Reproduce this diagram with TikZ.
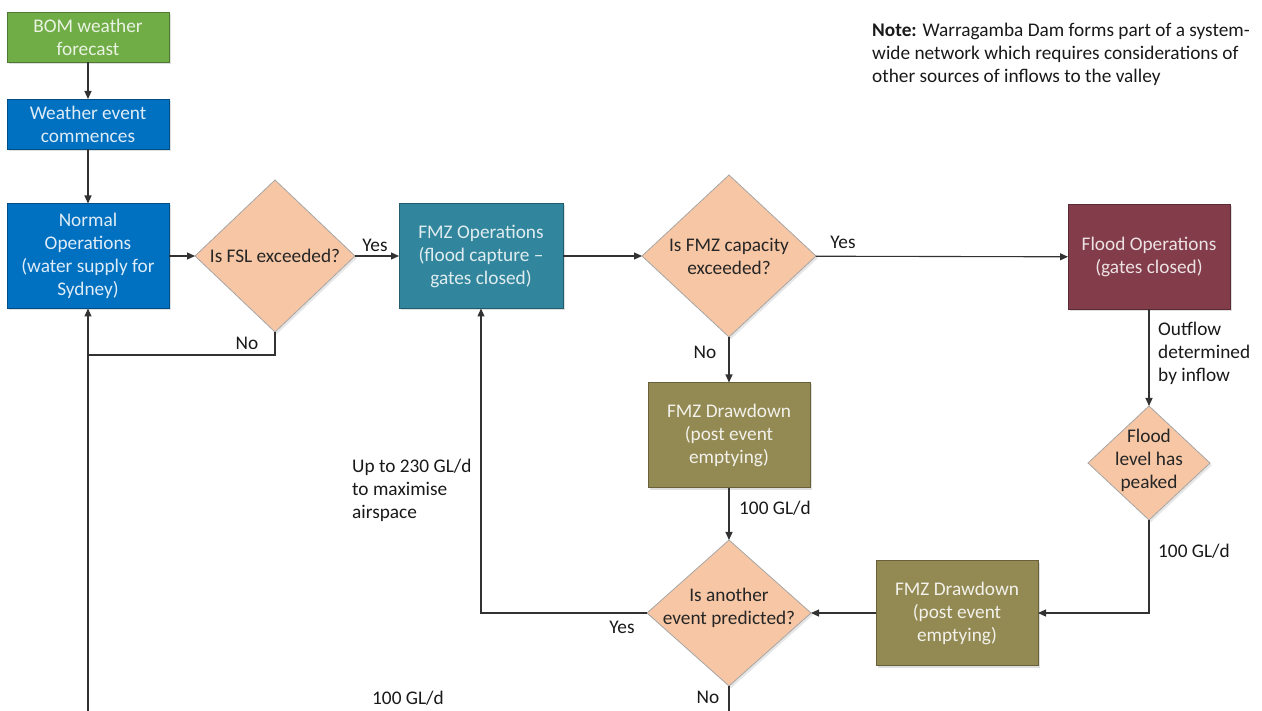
\documentclass[tikz,border=0pt]{standalone}
\usepackage{fontspec}
\setmainfont{Carlito}
\usepackage{tikz}
\usetikzlibrary{arrows.meta,shapes.geometric,shadows}
\definecolor{BOMGreen}{RGB}{112,173,71}
\definecolor{OpsBlue}{RGB}{0,112,192}
\definecolor{FMZTeal}{RGB}{49,133,156}
\definecolor{FloodRed}{RGB}{131,60,74}
\definecolor{DrawOlive}{RGB}{147,137,83}
\definecolor{Peach}{RGB}{247,198,164}
\definecolor{LineGrey}{RGB}{50,50,50}

\begin{document}
\begin{tikzpicture}[x=1pt,y=-1pt,
    font=\fontsize{19.3}{23}\selectfont,
    procbox/.style={draw=#1!70!black, fill=#1, line width=0.8pt, minimum width=162, minimum height=105,
      align=center, inner sep=2pt, outer sep=0pt,
      drop shadow={shadow xshift=2pt,shadow yshift=-2pt,opacity=0.25}},
    decision/.style={diamond, draw=black!35, fill=Peach, line width=0.8pt, inner sep=0pt, outer sep=0pt,
      drop shadow={shadow xshift=2pt,shadow yshift=-2pt,opacity=0.2}},
    qtext/.style={align=center, text=black!85, inner sep=0pt},
    lbl/.style={align=left, text=black!90, inner sep=0pt},
    wire/.style={draw=LineGrey, line width=1.1pt},
    arr/.style={wire, -{Triangle[length=8pt,width=7pt]}}]
  \useasboundingbox (0,0) rectangle (1262,711);

  \node[procbox=BOMGreen, minimum height=50, text=BOMGreen!15] (bom) at (88,37) {BOM weather\\forecast};
  \node[procbox=OpsBlue, minimum height=50, text=OpsBlue!13] (wx) at (88,124) {Weather event\\commences};
  \node[procbox=OpsBlue, text=OpsBlue!13] (normal) at (88,256) {Normal\\Operations\\(water supply for\\Sydney)};
  \node[procbox=FMZTeal, minimum width=164, text=FMZTeal!15] (fmzops) at (481,256) {FMZ Operations\\(flood capture --\\gates closed)};
  \node[procbox=FloodRed, text=FloodRed!15] (floodops) at (1149,257) {Flood Operations\\(gates closed)};
  \node[procbox=DrawOlive, text=DrawOlive!12] (dd1) at (729,435) {FMZ Drawdown\\(post event\\emptying)};
  \node[procbox=DrawOlive, text=DrawOlive!12] (dd2) at (957,613) {FMZ Drawdown\\(post event\\emptying)};

  \node[decision, minimum width=160, minimum height=152, label={[qtext]center:{Is FSL exceeded?}}] (fsl) at (275,256) {};
  \node[decision, minimum width=174, minimum height=162, label={[qtext]center:{Is FMZ capacity\\exceeded?}}] (fmzcap) at (729,256) {};
  \node[decision, minimum width=122, minimum height=114, label={[qtext,yshift=3pt]center:{Flood\\level has\\peaked}}] (peak) at (1149,463) {};
  \node[decision, minimum width=164, minimum height=146, label={[qtext,yshift=5pt]center:{Is another\\event predicted?}}] (another) at (729,613) {};

  \coordinate (jn) at (88,355);
  \coordinate (inlow) at (88,711);
  \coordinate (outlow) at (729,711);

  \draw[arr] (bom) -- (wx);
  \draw[arr] (wx) -- (normal);
  \draw[arr] (normal) -- (fsl);
  \draw[arr] (fsl) -- (fmzops);
  \draw[wire] (fsl.south) |- (jn);
  \draw[arr] (inlow) -- (normal.south);
  \draw[arr] (fmzops) -- (fmzcap);
  \draw[arr] (fmzcap) -- (floodops);
  \draw[arr] (fmzcap) -- (dd1);
  \draw[arr] (floodops) -- (peak);
  \draw[arr] (peak.south) |- (dd2.east);
  \draw[arr] (dd2) -- (another);
  \draw[arr] (dd1) -- (another);
  \draw[arr] (another.west) -| (fmzops.south);
  \draw[wire] (another.south) -- (outlow);

  \node[lbl] (yesfsl) at (375,245) {Yes};
  \node[lbl] (nofsl) at (247,343) {No};
  \node[lbl] (yescap) at (843,242) {Yes};
  \node[lbl] (nocap) at (705,352) {No};
  \node[lbl, anchor=west] (outflow) at (1158,353) {Outflow\\determined\\by inflow};
  \node[lbl, anchor=west] (rate1) at (739,508) {100 GL/d};
  \node[lbl, anchor=west] (rate2) at (1158,551) {100 GL/d};
  \node[lbl, anchor=west] (upto) at (352,490) {Up to 230 GL/d\\to maximise\\airspace};
  \node[lbl] (yesnext) at (622,627) {Yes};
  \node[lbl] (nonext) at (708,697) {No};
  \node[lbl] (rate3) at (408,698) {100 GL/d};
  \node[lbl, anchor=west] (note) at (872,54) {\textbf{Note:} Warragamba Dam forms part of a system-\\wide network which requires considerations of\\other sources of inflows to the valley};
\end{tikzpicture}
\end{document}
